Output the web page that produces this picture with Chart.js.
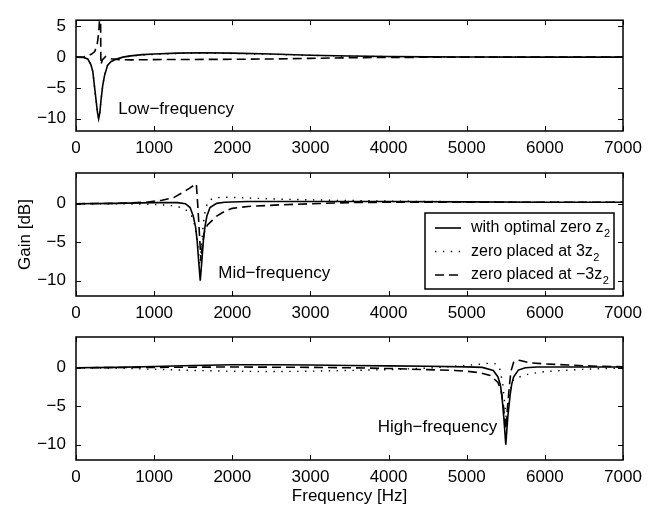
<!DOCTYPE html>
<html>
<head>
<meta charset="utf-8">
<title>Notch filter gain</title>
<script src="https://cdn.jsdelivr.net/npm/chart.js@4/dist/chart.umd.min.js"></script>
<style>
  html, body { margin: 0; padding: 0; background: #fff; }
  #wrap { position: relative; width: 670px; height: 513px; }
  #wrap canvas { position: absolute; left: 0; top: 0; }
</style>
</head>
<body>
<div id="wrap">
  <canvas id="low" width="670" height="513"></canvas>
  <canvas id="mid" width="670" height="513"></canvas>
  <canvas id="high" width="670" height="513"></canvas>
</div>
<script>
// [frequency Hz, gain dB] pairs

// low-frequency notch (~300 Hz)
const lowOptimal = [[0, 0], [100, -0.05], [150, -0.3], [190, -1.2], [215, -2.3], [235, -4.6], [255, -6.8], [275, -9],
  [290, -10], [305, -9], [320, -7], [342, -4.6], [365, -3], [405, -1.3], [450, -0.7], [510, -0.35], [600, 0],
  [700, 0.2], [850, 0.4], [1000, 0.5], [1300, 0.65], [1600, 0.7], [2000, 0.65], [2500, 0.5], [3000, 0.3],
  [3500, 0.18], [4000, 0.1], [4500, 0.05], [5000, 0.02], [6000, 0], [7000, 0]];
const lowThree = [[0, 0], [100, -0.05], [150, -0.3], [190, -1.2], [215, -2.3], [235, -4.6], [255, -6.8], [275, -9],
  [290, -10], [305, -9], [320, -7], [342, -4.6], [365, -3], [405, -1.3], [450, -0.7], [510, -0.35], [600, 0],
  [700, 0.18], [850, 0.35], [1000, 0.45], [1300, 0.6], [1600, 0.65], [2000, 0.6], [2500, 0.45], [3000, 0.3],
  [3500, 0.15], [4000, 0.08], [5000, 0.02], [6000, 0], [7000, 0]];
const lowMinusThree = [[0, 0], [100, 0.05], [150, 0.2], [200, 0.5], [240, 0.9], [270, 2], [290, 3.8], [305, 7],
  [312, 14], [318, -1.2], [340, -0.4], [380, 0.1], [450, -0.25], [550, -0.4], [700, -0.45], [1000, -0.4],
  [1500, -0.38], [2000, -0.35], [2500, -0.3], [3000, -0.2], [3500, -0.1], [4000, -0.05], [5000, 0], [7000, 0]];

// mid-frequency notch (~1600 Hz)
const midOptimal = [[0, 0], [500, 0.05], [1000, 0.15], [1300, 0.15], [1400, 0], [1460, -0.5], [1500, -1.6],
  [1530, -3], [1550, -4.8], [1570, -7.5], [1590, -10], [1610, -7.5], [1630, -4.8], [1650, -3], [1675, -1.6],
  [1715, -0.5], [1800, 0.05], [1900, 0.2], [2200, 0.3], [3000, 0.3], [4000, 0.3], [5000, 0.25], [6000, 0.2],
  [7000, 0.2]];
const midThree = [[0, 0], [500, 0], [900, -0.05], [1200, -0.2], [1350, -0.5], [1420, -0.9], [1480, -1.6],
  [1520, -2.8], [1555, -5], [1585, -8], [1610, -5], [1630, -2.5], [1660, -0.5], [1700, 0.4], [1760, 0.75],
  [1900, 0.85], [2200, 0.75], [2600, 0.6], [3300, 0.45], [4000, 0.35], [5000, 0.25], [6000, 0.2], [7000, 0.2]];
const midMinusThree = [[0, 0], [500, 0.05], [900, 0.2], [1100, 0.45], [1250, 0.8], [1370, 1.5], [1450, 2],
  [1510, 2.4], [1540, 2.6], [1560, -0.5], [1580, -4], [1600, -7.5], [1615, -5.5], [1640, -3.8], [1680, -2.8],
  [1740, -2.2], [1800, -1.6], [1900, -1], [2000, -0.6], [2200, -0.35], [2600, -0.15], [3000, 0], [3500, 0.15],
  [4000, 0.2], [5000, 0.2], [6000, 0.2], [7000, 0.2]];

// high-frequency notch (~5500 Hz)
const highOptimal = [[0, 0], [500, 0.05], [1000, 0.17], [1500, 0.3], [2000, 0.4], [2500, 0.4], [3000, 0.35],
  [3500, 0.3], [4000, 0.25], [4500, 0.2], [5000, 0.12], [5200, 0.05], [5340, -0.35], [5400, -1.2], [5430, -2.2],
  [5450, -3.6], [5475, -6.5], [5500, -10], [5525, -6.5], [5555, -3.6], [5575, -2.2], [5600, -1.2], [5660, -0.3],
  [5750, 0], [5900, 0.1], [6500, 0.1], [7000, 0.1]];
const highThree = [[0, 0], [500, -0.05], [1000, -0.2], [1500, -0.35], [2000, -0.45], [2500, -0.5], [3000, -0.45],
  [3500, -0.35], [4000, -0.25], [4500, -0.05], [4800, 0.15], [5100, 0.4], [5300, 0.6], [5380, 0.5], [5420, 0],
  [5460, -2], [5490, -5], [5510, -7], [5530, -5], [5555, -3], [5600, -1.5], [5700, -1.1], [5800, -0.8],
  [6000, -0.5], [6300, -0.3], [6600, -0.15], [7000, -0.05]];
const highMinusThree = [[0, 0], [1000, 0.05], [2000, 0.1], [3000, 0.05], [3500, 0], [4000, -0.1], [4500, -0.25],
  [4850, -0.35], [5000, -0.45], [5170, -0.65], [5300, -1], [5400, -1.9], [5440, -3], [5470, -5], [5500, -8],
  [5515, -6], [5540, -3], [5565, -0.5], [5600, 0.7], [5650, 1], [5700, 0.9], [5800, 0.65], [6000, 0.5],
  [6300, 0.35], [6600, 0.22], [7000, 0.12]];

const seriesNames = ['with optimal zero z_2', 'zero placed at 3z_2', 'zero placed at \u22123z_2'];
const freqTicks = [0, 1000, 2000, 3000, 4000, 5000, 6000, 7000];
const lowGainTicks = [-10, -5, 0, 5];
const gainTicks = [-10, -5, 0];

const FONT = "'Liberation Sans', Arial, Helvetica, sans-serif";
Chart.defaults.font.family = FONT;
Chart.defaults.font.size = 17;
Chart.defaults.color = '#000';

const minus = s => String(s).replace('-', '\u2212');

// box round the plot with inward tick marks on all four sides
const framePlugin = {
  id: 'frame',
  afterDraw(chart) {
    const { ctx, chartArea: a } = chart;
    const x = chart.scales.x;
    const y = chart.scales.y;
    ctx.save();
    ctx.strokeStyle = '#000';
    ctx.lineWidth = 1.5;
    ctx.strokeRect(a.left, a.top, a.right - a.left, a.bottom - a.top);
    ctx.lineWidth = 1;
    ctx.beginPath();
    x.ticks.forEach(t => {
      const px = Math.round(x.getPixelForValue(t.value)) + 0.5;
      ctx.moveTo(px, a.bottom); ctx.lineTo(px, a.bottom - 5);
      ctx.moveTo(px, a.top); ctx.lineTo(px, a.top + 5);
    });
    y.ticks.forEach(t => {
      const py = Math.round(y.getPixelForValue(t.value)) + 0.5;
      ctx.moveTo(a.left, py); ctx.lineTo(a.left + 5, py);
      ctx.moveTo(a.right, py); ctx.lineTo(a.right - 5, py);
    });
    ctx.stroke();
    ctx.restore();
  },
};

// "Low-frequency" etc. placed at a data position
const notePlugin = {
  id: 'note',
  afterDraw(chart, args, opts) {
    if (!opts.text) return;
    const { ctx } = chart;
    ctx.save();
    ctx.font = '17px ' + FONT;
    ctx.fillStyle = '#000';
    ctx.textAlign = 'left';
    ctx.textBaseline = 'middle';
    ctx.fillText(opts.text, chart.scales.x.getPixelForValue(opts.hz), chart.scales.y.getPixelForValue(opts.db));
    ctx.restore();
  },
};

// text with an "_2" subscript
function drawSubText(ctx, text, x, y) {
  const [main, sub] = text.split('_');
  ctx.font = '16px ' + FONT;
  ctx.fillText(main, x, y);
  if (sub) {
    const w = ctx.measureText(main).width;
    ctx.font = '11px ' + FONT;
    ctx.fillText(sub, x + w + 0.5, y + 6);
  }
}

// MATLAB style legend box in the lower right of the plot
const boxLegendPlugin = {
  id: 'boxLegend',
  afterDraw(chart) {
    const { ctx, chartArea: a } = chart;
    const right = a.right - 9;
    const bottom = a.bottom - 7;
    const width = 189;
    const rowH = 23.5;
    const height = 76;
    const left = right - width;
    const top = bottom - height;
    ctx.save();
    ctx.fillStyle = '#fff';
    ctx.fillRect(left, top, width, height);
    ctx.strokeStyle = '#000';
    ctx.lineWidth = 1.5;
    ctx.strokeRect(left, top, width, height);
    chart.data.datasets.forEach((ds, i) => {
      const cy = top + 15 + i * rowH;
      ctx.beginPath();
      ctx.lineWidth = ds.borderWidth;
      ctx.setLineDash(ds.borderDash || []);
      ctx.moveTo(left + 10, cy);
      ctx.lineTo(left + 36, cy);
      ctx.stroke();
      ctx.setLineDash([]);
      ctx.fillStyle = '#000';
      ctx.textAlign = 'left';
      ctx.textBaseline = 'middle';
      drawSubText(ctx, ds.label, left + 46, cy);
    });
    ctx.restore();
  },
};

function toPoints(pairs) {
  return pairs.map(([hz, db]) => ({ x: hz, y: db }));
}

function makeDatasets(optimal, three, minusThree) {
  return [
    { label: seriesNames[0], data: toPoints(optimal), borderWidth: 1.6 },
    { label: seriesNames[1], data: toPoints(three), borderWidth: 1.4, borderDash: [1.4, 6.5] },
    { label: seriesNames[2], data: toPoints(minusThree), borderWidth: 1.6, borderDash: [9, 5] },
  ].map(ds => Object.assign(ds, { borderColor: '#000', pointRadius: 0, tension: 0, fill: false, clip: 0 }));
}

function createPanel(canvasId, cfg) {
  const ctx = document.getElementById(canvasId).getContext('2d');
  return new Chart(ctx, {
    type: 'line',
    data: { datasets: makeDatasets(cfg.optimal, cfg.three, cfg.minusThree) },
    options: {
      responsive: false,
      animation: false,
      events: [],
      layout: { padding: { left: 6, right: 47, top: cfg.top, bottom: cfg.bottomPad } },
      plugins: {
        legend: { display: false },
        tooltip: { enabled: false },
        note: cfg.note,
      },
      scales: {
        x: {
          type: 'linear',
          min: 0,
          max: 7000,
          afterBuildTicks: s => { s.ticks = freqTicks.map(v => ({ value: v })); },
          afterFit: s => { s.height = cfg.xHeight; },
          grid: { display: false, drawTicks: false },
          border: { display: false },
          ticks: { padding: 7, maxRotation: 0, callback: v => String(v) },
          title: cfg.xTitle
            ? { display: true, text: cfg.xTitle, padding: { top: 0, bottom: 6 } }
            : { display: false },
        },
        y: {
          type: 'linear',
          min: -12,
          max: cfg.yMax,
          afterBuildTicks: s => { s.ticks = cfg.yTicks.map(v => ({ value: v })); },
          afterFit: s => { s.width = 70; },
          grid: { display: false, drawTicks: false },
          border: { display: false },
          ticks: { padding: 10, callback: v => minus(v) },
          title: cfg.yTitle
            ? { display: true, text: cfg.yTitle, padding: { top: 9, bottom: 0 } }
            : { display: false },
        },
      },
    },
    plugins: cfg.legend ? [framePlugin, notePlugin, boxLegendPlugin] : [framePlugin, notePlugin],
  });
}

createPanel('low', {
  optimal: lowOptimal, three: lowThree, minusThree: lowMinusThree,
  top: 8, bottomPad: 352, xHeight: 30, yMax: 6, yTicks: lowGainTicks,
  note: { text: 'Low\u2212frequency', hz: 540, db: -8.5 },
});

createPanel('mid', {
  optimal: midOptimal, three: midThree, minusThree: midMinusThree,
  top: 173, bottomPad: 187, xHeight: 30, yMax: 4, yTicks: gainTicks,
  yTitle: 'Gain [dB]', legend: true,
  note: { text: 'Mid\u2212frequency', hz: 1820, db: -9 },
});

createPanel('high', {
  optimal: highOptimal, three: highThree, minusThree: highMinusThree,
  top: 337, bottomPad: 0, xHeight: 53, yMax: 4, yTicks: gainTicks,
  xTitle: 'Frequency [Hz]',
  note: { text: 'High\u2212frequency', hz: 3860, db: -7.75 },
});
</script>
</body>
</html>
